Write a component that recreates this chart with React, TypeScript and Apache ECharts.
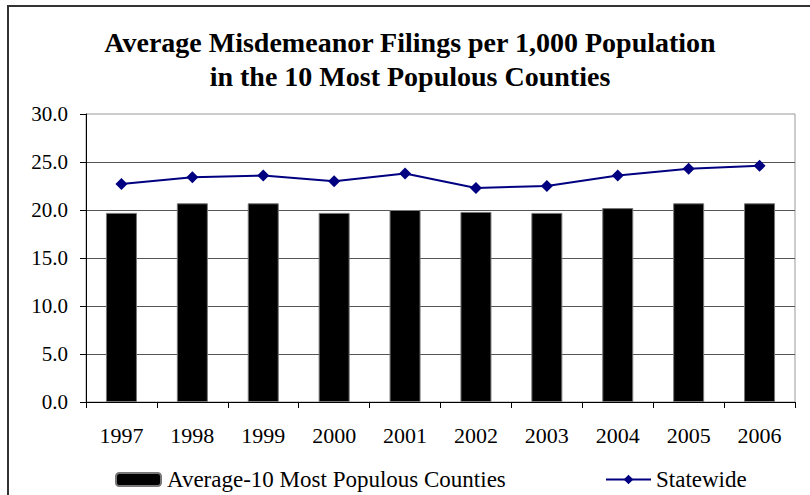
import React, { useEffect, useRef } from "react";
import * as echarts from "echarts";

const years = ["1997", "1998", "1999", "2000", "2001", "2002", "2003", "2004", "2005", "2006"];
const avgTop10 = [19.7, 20.7, 20.7, 19.7, 20.0, 19.8, 19.7, 20.2, 20.7, 20.7];
const statewide = [22.7, 23.4, 23.6, 23.0, 23.8, 22.3, 22.5, 23.6, 24.3, 24.6];
const barName = "Average-10 Most Populous Counties";
const lineName = "Statewide";
const titleText = "Average Misdemeanor Filings per 1,000 Population\nin the 10 Most Populous Counties";

const FONT = "'Liberation Serif', 'Times New Roman', serif";

export default function App() {
  const ref = useRef<HTMLDivElement>(null);
  useEffect(() => {
    if (!ref.current) return;
    const chart = echarts.init(ref.current, null, { renderer: "svg" });
    chart.setOption({
      animation: false,
      backgroundColor: "#ffffff",
      title: {
        text: titleText,
        left: 410,
        top: 25,
        textAlign: "center",
        padding: 0,
        textStyle: {
          fontFamily: FONT,
          fontWeight: "bold",
          fontSize: 28,
          lineHeight: 34,
          color: "#000",
        },
      },
      graphic: [
        {
          type: "rect",
          shape: { x: 8, y: 6, width: 840, height: 600 },
          style: { fill: "none", stroke: "#333", lineWidth: 2 },
          silent: true,
        },
      ],
      grid: {
        left: 86,
        right: 15,
        top: 114,
        bottom: 93,
        show: true,
        borderColor: "#999",
        borderWidth: 1,
        backgroundColor: "transparent",
      },
      legend: [
        {
          data: [barName],
          left: 115,
          top: 468,
          padding: 0,
          itemWidth: 45,
          itemHeight: 13,
          itemGap: 6,
          textStyle: { fontFamily: FONT, fontSize: 23, color: "#000", padding: [0, 0, 0, 1] },
        },
        {
          data: [lineName],
          left: 605,
          top: 468,
          padding: 0,
          itemWidth: 45,
          itemHeight: 12,
          itemGap: 6,
          textStyle: { fontFamily: FONT, fontSize: 23, color: "#000" },
        },
      ],
      xAxis: {
        type: "category",
        data: years,
        axisLine: { lineStyle: { color: "#000", width: 1 } },
        axisTick: { show: true, length: 6, lineStyle: { color: "#000" } },
        axisLabel: { fontFamily: FONT, fontSize: 22, color: "#000", margin: 22 },
        splitLine: { show: false },
      },
      yAxis: {
        type: "value",
        min: 0,
        max: 30,
        interval: 5,
        axisLine: { show: true, lineStyle: { color: "#000", width: 1 } },
        axisTick: { show: true, length: 6, lineStyle: { color: "#000" } },
        axisLabel: {
          fontFamily: FONT,
          fontSize: 21,
          color: "#000",
          margin: 18,
          formatter: (v: number) => v.toFixed(1),
        },
        splitLine: { show: true, showMaxLine: false, lineStyle: { color: "#555", width: 1 } },
      },
      series: [
        {
          name: barName,
          type: "bar",
          data: avgTop10,
          barWidth: 31,
          itemStyle: { color: "#000", borderColor: "#777", borderWidth: 1 },
        },
        {
          name: lineName,
          type: "line",
          data: statewide,
          symbol: "diamond",
          symbolSize: 12,
          lineStyle: { color: "#000080", width: 2 },
          itemStyle: { color: "#000080" },
        },
      ],
    });
    return () => chart.dispose();
  }, []);
  return (
    <div
      ref={ref}
      style={{ position: "fixed", left: 0, top: 0, width: 810, height: 495, background: "#fff" }}
    />
  );
}
